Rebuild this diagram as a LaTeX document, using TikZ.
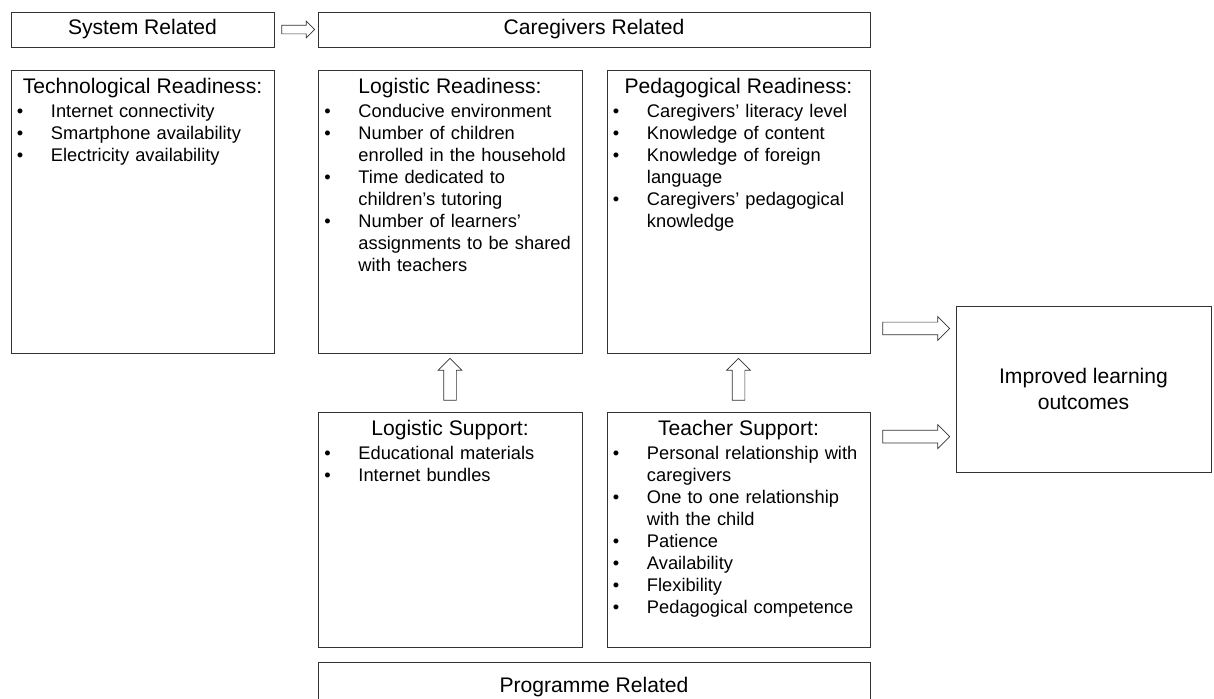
\documentclass[tikz,border=0pt]{standalone}
\usepackage{fontspec}
\setmainfont{Liberation Sans}
\usetikzlibrary{shapes.arrows,calc,positioning}

\newcommand{\paneltitle}[1]{{\centering\fontsize{15pt}{18pt}\selectfont #1\par}\vspace{2pt}}
\newcommand{\bulitem}[1]{\par\noindent\hangindent=0.9cm\hangafter=1\makebox[0.9cm][l]{\hspace{0.05cm}\textbullet}#1\par}

\begin{document}
\begin{tikzpicture}[x=0.025cm,y=-0.025cm]
\tikzstyle{every node}=[font=\fontsize{15pt}{18pt}\selectfont]
\tikzstyle{panel}=[draw=black!80,line width=0.6pt,rectangle,inner sep=0pt]
\tikzstyle{paneltext}=[anchor=north,text width=6.375cm,align=left,inner sep=0pt,font=\fontsize{13pt}{15.65pt}\selectfont]
\tikzstyle{blockarr}=[single arrow,draw=black!80,fill=white,line width=0.5pt,inner xsep=0pt,single arrow head indent=0pt,sloped]
\tikzstyle{bigarr}=[blockarr,inner ysep=0.15cm,minimum width=0.575cm,single arrow head extend=0.1375cm]

\useasboundingbox (0,0) rectangle (1214,698);
\clip (0,0) rectangle (1214,698);

% headers
\node[panel,minimum width=6.575cm,minimum height=0.875cm] (sys) at (142.5,29.5) {System Related};
\node[panel,minimum width=13.8cm,minimum height=0.875cm] (care) at (594,29.5) {Caregivers Related};
\node[panel,minimum width=13.8cm,minimum height=1.25cm] (prog) at (594,687) {Programme Related};

% readiness panels
\node[panel,minimum width=6.575cm,minimum height=7.075cm] (tech) at (142.5,211.5) {};
\node[panel,minimum width=6.6cm,minimum height=7.075cm] (logready) at (450,211.5) {};
\node[panel,minimum width=6.575cm,minimum height=7.075cm] (pedready) at (738.5,211.5) {};

% support panels
\node[panel,minimum width=6.6cm,minimum height=5.875cm] (logsup) at (450,529.5) {};
\node[panel,minimum width=6.575cm,minimum height=5.875cm] (teachsup) at (738.5,529.5) {};

\node[panel,minimum width=6.375cm,minimum height=4.15cm,align=center] (outcome) at (1083.5,389) {Improved learning\\outcomes};

\node[paneltext] (techtext) at ([yshift=-0.2cm]tech.north) {\paneltitle{Technological Readiness:}
  \bulitem{Internet connectivity}
  \bulitem{Smartphone availability}
  \bulitem{Electricity availability}};
\node[paneltext] (logreadytext) at ([yshift=-0.2cm]logready.north) {\paneltitle{Logistic Readiness:}
  \bulitem{Conducive environment}
  \bulitem{Number of children\newline enrolled in the household}
  \bulitem{Time dedicated to\newline children’s tutoring}
  \bulitem{Number of learners’\newline assignments to be shared\newline with teachers}};
\node[paneltext] (pedreadytext) at ([yshift=-0.2cm]pedready.north) {\paneltitle{Pedagogical Readiness:}
  \bulitem{Caregivers’ literacy level}
  \bulitem{Knowledge of content}
  \bulitem{Knowledge of foreign\newline language}
  \bulitem{Caregivers’ pedagogical\newline knowledge}};
\node[paneltext] (logsuptext) at ([yshift=-0.2cm]logsup.north) {\paneltitle{Logistic Support:}
  \bulitem{Educational materials}
  \bulitem{Internet bundles}};
\node[paneltext] (teachsuptext) at ([yshift=-0.2cm]teachsup.north) {\paneltitle{Teacher Support:}
  \bulitem{Personal relationship with\newline caregivers}
  \bulitem{One to one relationship\newline with the child}
  \bulitem{Patience}
  \bulitem{Availability}
  \bulitem{Flexibility}
  \bulitem{Pedagogical competence}};

% block arrows
\coordinate (pedout) at ($(pedready.south east)+(0,-25)$);
\coordinate (teachout) at ($(teachsup.north east)+(0,25)$);
\path (sys.east) -- node[blockarr,inner ysep=0.1cm,minimum height=0.825cm,minimum width=0.4cm,single arrow head extend=0.1cm] (arrsys) {} (care.west);
\path (logsup.north) -- node[bigarr,minimum height=1.05cm] (arrlog) {} (logready.south);
\path (teachsup.north) -- node[bigarr,minimum height=1.05cm] (arrteach) {} (pedready.south);
\path (pedout) -- node[bigarr,minimum height=1.675cm] (arrped) {} (outcome.west |- pedout);
\path (teachout) -- node[bigarr,minimum height=1.675cm] (arrsup) {} (outcome.west |- teachout);
\end{tikzpicture}
\end{document}
